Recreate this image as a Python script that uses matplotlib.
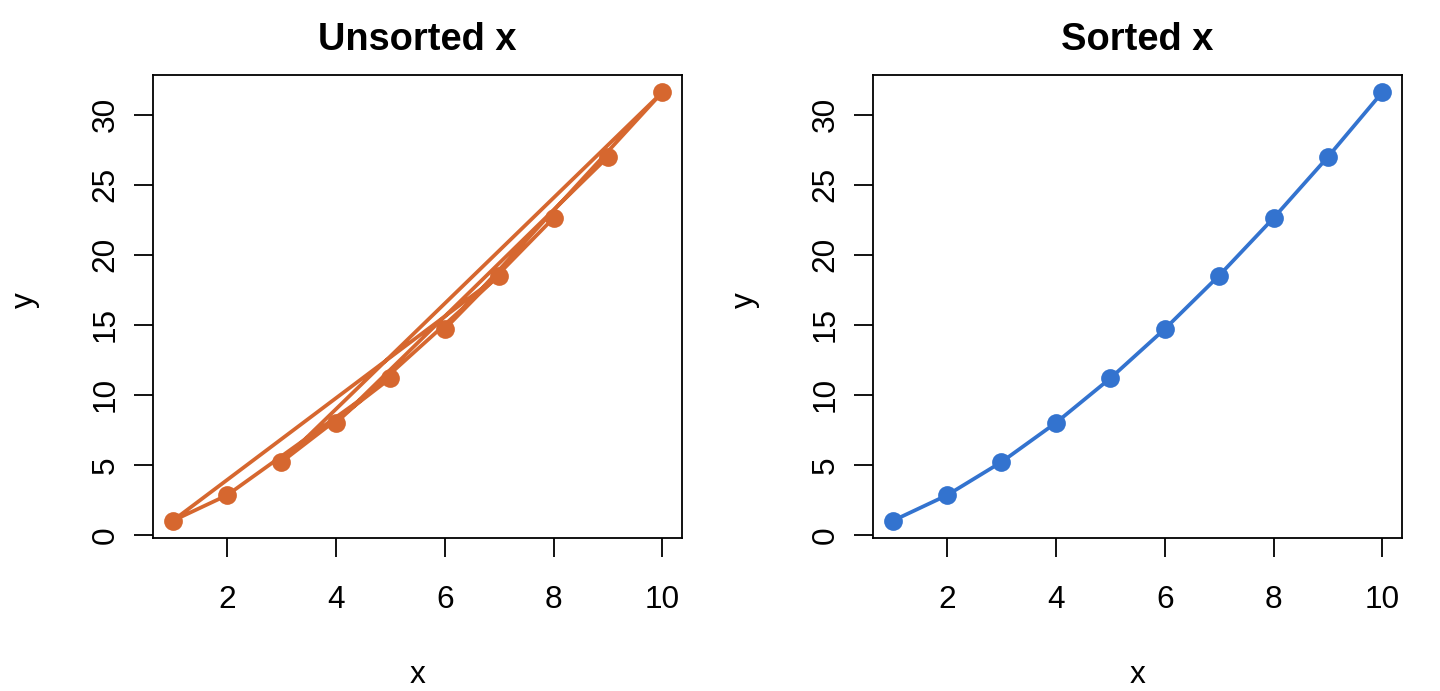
import matplotlib
matplotlib.use("Agg")
import matplotlib.pyplot as plt

plt.rcParams['font.family'] = ['Liberation Sans', 'DejaVu Sans']

# Data (order as drawn in the left panel)
x_unsorted = [9, 4, 7, 1, 2, 5, 3, 10, 6, 8]
y_unsorted = [27.0, 8.0, 18.52, 1.0, 2.83, 11.18, 5.2, 31.62, 14.7, 22.63]

x_sorted = [1, 2, 3, 4, 5, 6, 7, 8, 9, 10]
y_sorted = [1.0, 2.83, 5.2, 8.0, 11.18, 14.7, 18.52, 22.63, 27.0, 31.62]

titles = ["Unsorted x", "Sorted x"]
colors = ["#D6672F", "#3373CF"]
x_ticks = [2, 4, 6, 8, 10]
y_ticks = [0, 5, 10, 15, 20, 25, 30]

W, H = 1440, 691
fig = plt.figure(figsize=(W / 100, H / 100), dpi=100)

box_top, box_bot = 75, 538
lefts = [153, 873]
width_px = 529

tick_fs = 22.8
title_fs = 27.4

for i, (xs, ys) in enumerate([(x_unsorted, y_unsorted), (x_sorted, y_sorted)]):
    L = lefts[i]
    ax = fig.add_axes([L / W, 1 - box_bot / H, width_px / W, (box_bot - box_top) / H])
    ax.plot(xs, ys, color=colors[i], lw=2.7, marker='o', markersize=13.5,
            markeredgewidth=0, solid_joinstyle='round')
    ax.margins(0.04)
    ax.set_xticks(x_ticks)
    ax.set_yticks(y_ticks)
    ax.set_yticklabels([str(t) for t in y_ticks], rotation=90, va='center')
    ax.tick_params(axis='both', direction='out', length=13.5, width=1.3,
                   labelsize=tick_fs, colors='black')
    ax.tick_params(axis='x', pad=20)
    ax.tick_params(axis='y', pad=10)
    for s in ax.spines.values():
        s.set_linewidth(1.3)
        s.set_color('black')
    cx = (L + L + width_px) / 2
    fig.text(cx / W, 1 - 40 / H, titles[i], fontsize=title_fs, fontweight='bold',
             ha='center', va='center')
    fig.text(cx / W, 1 - 675 / H, "x", fontsize=tick_fs, ha='center', va='center')
    fig.text((L - 128) / W, 1 - 300 / H, "y", fontsize=tick_fs, ha='center',
             va='center', rotation=90)

fig.savefig("out.png", dpi=100, facecolor='white')
